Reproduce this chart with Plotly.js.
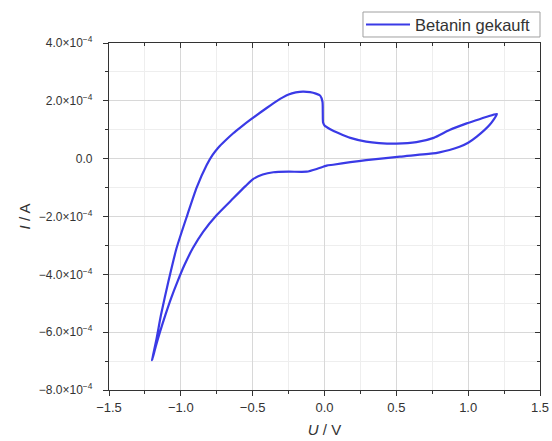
<!DOCTYPE html>
<html>
<head>
<meta charset="utf-8">
<script src="https://cdn.plot.ly/plotly-3.0.1.min.js"></script>
<style>html,body{margin:0;padding:0;background:#fff;}#chart{width:552px;height:441px;}</style>
</head>
<body>
<div id="chart"></div>
<script>
// Cyclic voltammogram: forward sweep from +1.2 V down to -1.2 V, then back up
const seriesName = "Betanin gekauft";
const potentialV = [
  1.20, 1.13, 1.05, 0.99, 0.87, 0.76, 0.64, 0.50, 0.38, 0.29, 0.18, 0.10, 0.04, 0.00, -0.01,
  -0.012, -0.014, -0.03, -0.06, -0.10, -0.15, -0.20, -0.25, -0.29, -0.33, -0.40, -0.52, -0.58, -0.635,
  -0.69, -0.74, -0.78, -0.82, -0.89, -0.955, -1.03, -1.087, -1.138, -1.168, -1.20,
  -1.175, -1.145, -1.108, -1.068, -1.024, -0.975, -0.917, -0.845, -0.75, -0.635, -0.55, -0.495,
  -0.43, -0.356, -0.25, -0.124, -0.05, 0.015, 0.06, 0.18, 0.29, 0.525, 0.755, 0.80, 0.87, 0.94, 1.00,
  1.06, 1.15, 1.20
];
const currentA = [
  1.55e-4, 1.45e-4, 1.32e-4, 1.22e-4, 0.99e-4, 0.72e-4, 0.57e-4, 0.52e-4, 0.54e-4, 0.59e-4, 0.72e-4, 0.88e-4, 1.02e-4, 1.15e-4, 1.25e-4,
  1.60e-4, 1.97e-4, 2.18e-4, 2.25e-4, 2.30e-4, 2.32e-4, 2.29e-4, 2.22e-4, 2.12e-4, 2.00e-4, 1.76e-4, 1.33e-4, 1.10e-4, 0.88e-4,
  0.63e-4, 0.38e-4, 0.12e-4, -0.22e-4, -1.00e-4, -1.95e-4, -3.10e-4, -4.26e-4, -5.40e-4, -6.20e-4, -6.97e-4,
  -6.50e-4, -5.99e-4, -5.41e-4, -4.83e-4, -4.26e-4, -3.68e-4, -3.10e-4, -2.53e-4, -1.95e-4, -1.37e-4, -0.95e-4, -0.70e-4,
  -0.55e-4, -0.47e-4, -0.45e-4, -0.45e-4, -0.35e-4, -0.24e-4, -0.21e-4, -0.12e-4, -0.05e-4, 0.07e-4, 0.18e-4, 0.22e-4, 0.30e-4, 0.41e-4, 0.55e-4,
  0.76e-4, 1.17e-4, 1.55e-4
];
const xTickVals = [-1.5, -1.0, -0.5, 0.0, 0.5, 1.0, 1.5];
const xTickText = ["\u22121.5", "\u22121.0", "\u22120.5", "0.0", "0.5", "1.0", "1.5"];
const yTickVals = [4e-4, 2e-4, 0, -2e-4, -4e-4, -6e-4, -8e-4];
const yTickText = ["4.0\u00d710<sup>\u22124</sup>", "2.0\u00d710<sup>\u22124</sup>", "0.0",
  "\u22122.0\u00d710<sup>\u22124</sup>", "\u22124.0\u00d710<sup>\u22124</sup>",
  "\u22126.0\u00d710<sup>\u22124</sup>", "\u22128.0\u00d710<sup>\u22124</sup>"];
const xRange = [-1.5, 1.5];
const yRange = [-8e-4, 4e-4];

const lineColor = "#3a3ae6";
const font = {family: "Liberation Sans, Arial, sans-serif", size: 12, color: "#333"};

const trace = {
  x: potentialV, y: currentA, type: "scatter", mode: "lines", name: seriesName,
  line: {color: lineColor, width: 2.2, shape: "spline", smoothing: 0.6}
};
// invisible trace on the mirror axes so they are drawn
const mirrorTrace = {x: [xRange[0]], y: [yRange[0]], xaxis: "x2", yaxis: "y2", mode: "markers",
  marker: {opacity: 0}, showlegend: false, hoverinfo: "skip"};

// legend box drawn above the plot (paper coordinates)
const legendBox = {x0: 0.5893, x1: 1.0, y0: 1.0173, y1: 1.0893};
const legendMidY = (legendBox.y0 + legendBox.y1) / 2;

const layout = {
  width: 552, height: 441,
  margin: {l: 109, r: 12, t: 43, b: 51},
  paper_bgcolor: "#fff", plot_bgcolor: "#fff",
  font: font,
  showlegend: false,
  shapes: [
    {type: "rect", xref: "paper", yref: "paper", x0: legendBox.x0, x1: legendBox.x1, y0: legendBox.y0, y1: legendBox.y1,
      line: {color: "#a0a0a0", width: 1}, fillcolor: "#fff", layer: "above"},
    {type: "line", xref: "paper", yref: "paper", x0: 0.5963, x1: 0.6984, y0: legendMidY, y1: legendMidY,
      line: {color: lineColor, width: 2.2}, layer: "above"}
  ],
  annotations: [
    {xref: "paper", yref: "paper", x: 0.7053, y: legendMidY, xanchor: "left", yanchor: "middle",
      text: seriesName, showarrow: false, font: {family: font.family, size: 16.5, color: "#333"}}
  ],
  xaxis: {
    range: xRange, tickvals: xTickVals, ticktext: xTickText,
    ticks: "outside", ticklen: 5, tickwidth: 1, tickcolor: "#333",
    showline: true, linecolor: "#333", linewidth: 1.2,
    showgrid: true, gridcolor: "#d8d8d8", gridwidth: 1, zeroline: false,
    minor: {dtick: 0.25, tick0: 0, ticks: "outside", ticklen: 3, tickcolor: "#333", showgrid: true, gridcolor: "#eeeeee"},
    tickfont: {size: 13, color: "#333"},
    title: {text: "<i>U</i> / V", font: {size: 15, color: "#333"}, standoff: 10}
  },
  yaxis: {
    range: yRange, tickvals: yTickVals, ticktext: yTickText,
    ticks: "outside", ticklen: 5, tickwidth: 1, tickcolor: "#333",
    showline: true, linecolor: "#333", linewidth: 1.2,
    showgrid: true, gridcolor: "#d8d8d8", gridwidth: 1, zeroline: false,
    minor: {dtick: 1e-4, tick0: 0, ticks: "outside", ticklen: 3, tickcolor: "#333", showgrid: true, gridcolor: "#eeeeee"},
    tickfont: {size: 12, color: "#333"},
    ticklabelstandoff: 8,
    title: {text: "<i>I</i> / A", font: {size: 15, color: "#333"}, standoff: 4}
  },
  xaxis2: {
    overlaying: "x", side: "top", range: xRange, tickvals: xTickVals, showticklabels: false,
    ticks: "inside", ticklen: 5, tickcolor: "#333", showline: true, linecolor: "#333", linewidth: 1.2,
    showgrid: false, zeroline: false,
    minor: {dtick: 0.25, tick0: 0, ticks: "inside", ticklen: 3, tickcolor: "#333", showgrid: false}
  },
  yaxis2: {
    overlaying: "y", side: "right", range: yRange, tickvals: yTickVals, showticklabels: false,
    ticks: "inside", ticklen: 5, tickcolor: "#333", showline: true, linecolor: "#333", linewidth: 1.2,
    showgrid: false, zeroline: false,
    minor: {dtick: 1e-4, tick0: 0, ticks: "inside", ticklen: 3, tickcolor: "#333", showgrid: false}
  }
};

Plotly.newPlot("chart", [trace, mirrorTrace], layout, {staticPlot: true, displayModeBar: false});
</script>
</body>
</html>
